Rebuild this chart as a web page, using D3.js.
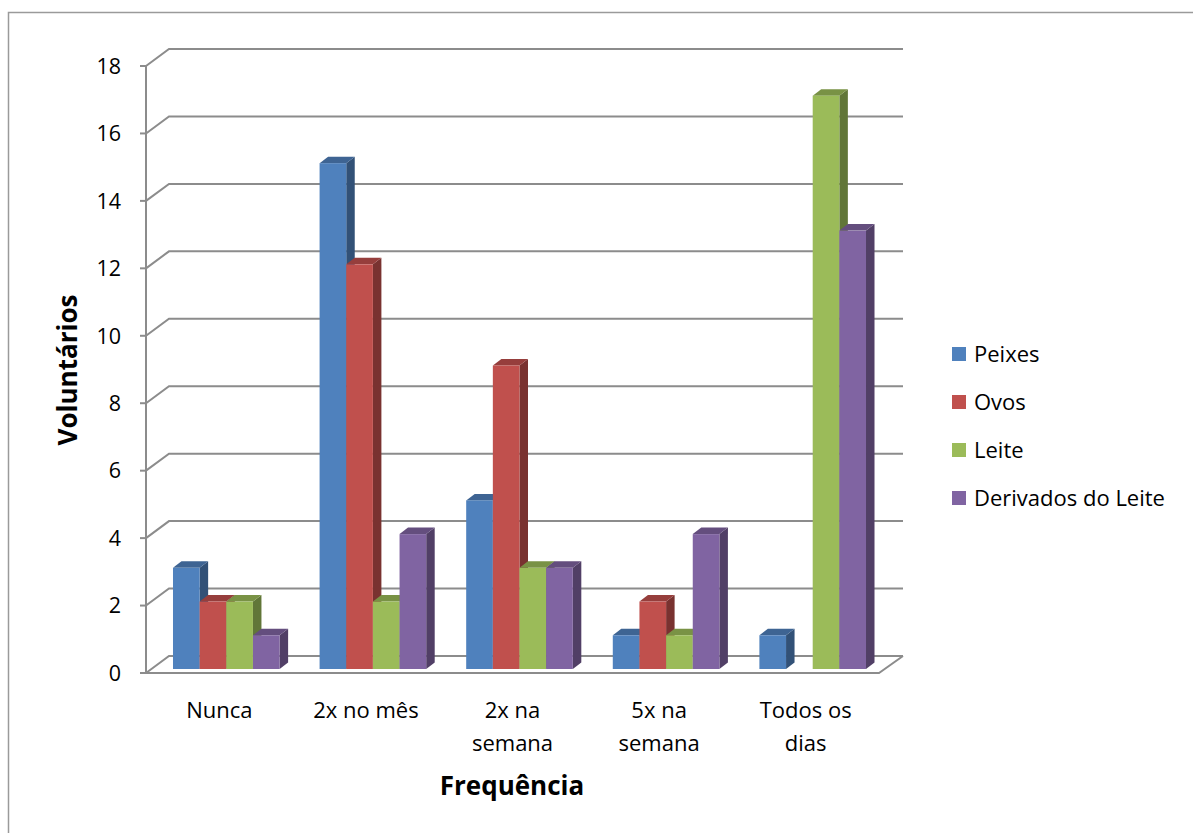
<!DOCTYPE html>
<html>
<head>
<meta charset="utf-8">
<script src="https://cdn.jsdelivr.net/npm/d3@7/dist/d3.min.js"></script>
<style>
  html, body { margin: 0; padding: 0; background: #fff; }
  svg { display: block; font-family: "Open Sans", Lato, sans-serif; }
</style>
</head>
<body>
<svg id="chart" width="1193" height="833"></svg>
<script>
// Frequência de consumo por alimento
const categories = [["Nunca"], ["2x no mês"], ["2x na", "semana"], ["5x na", "semana"], ["Todos os", "dias"]];
const seriesNames = ["Peixes", "Ovos", "Leite", "Derivados do Leite"];
const seriesColors = ["#4F81BD", "#C0504D", "#9BBB59", "#8064A2"];
const peixes    = [3, 15, 5, 1, 1];
const ovos      = [2, 12, 9, 2, 0];
const leite     = [2, 2, 3, 1, 17];
const derivados = [1, 4, 3, 4, 13];
const yTicks = [0, 2, 4, 6, 8, 10, 12, 14, 16, 18];

const seriesValues = [peixes, ovos, leite, derivados];
const catKeys = categories.map(c => c.join(" "));

const svg = d3.select("#chart");

// outer frame
svg.append("rect")
  .attr("x", 8.5).attr("y", 12.5)
  .attr("width", 1300).attr("height", 1000)
  .attr("fill", "none").attr("stroke", "#9a9a9a").attr("stroke-width", 1.5);

// front plane scales
const y = d3.scaleLinear().domain([0, 18]).range([673, 66]);
const x = d3.scaleBand().domain(catKeys).range([146, 879]).paddingInner(0).paddingOuter(0);
const barW = x.bandwidth() / 5.5;
const xs = d3.scaleBand().domain(seriesNames).range([0, barW * 4]);

// depth offsets of the 3D box
const wallDx = 23, wallDy = -17;     // back wall relative to front
const barDx = 7, barDy = -4;         // bar front relative to front plane
const sideDx = 8.5, sideDy = -6.5;   // bar thickness

const gridColor = "#8c8c8c";
const grid = svg.append("g").attr("stroke", gridColor).attr("stroke-width", 2).attr("fill", "none");

// back wall gridlines and side-wall diagonals
yTicks.forEach(t => {
  grid.append("path").attr("d", d3.line()([
    [146, y(t)], [146 + wallDx, y(t) + wallDy], [903, y(t) + wallDy]
  ]));
});
// floor front edge and right diagonal
grid.append("path").attr("d", d3.line()([
  [146, y(0)], [879, y(0)], [879 + wallDx + 1, y(0) + wallDy]
]));

// bars
const bars = svg.append("g");
catKeys.forEach((cat, ci) => {
  seriesNames.forEach((name, si) => {
    const v = seriesValues[si][ci];
    if (!v) return;
    const base = d3.color(seriesColors[si]);
    const x0 = x(cat) + barW * 0.75 + xs(name) + barDx;
    const x1 = x0 + barW;
    const yTop = y(v) + barDy;
    const yBot = y(0) + barDy;
    // side face
    bars.append("path")
      .attr("d", d3.line()([[x1, yTop], [x1 + sideDx, yTop + sideDy], [x1 + sideDx, yBot + sideDy], [x1, yBot]]) + "Z")
      .attr("fill", base.darker(1.3));
    // top face
    bars.append("path")
      .attr("d", d3.line()([[x0, yTop], [x0 + sideDx, yTop + sideDy], [x1 + sideDx, yTop + sideDy], [x1, yTop]]) + "Z")
      .attr("fill", base.darker(0.7));
    // front face
    bars.append("rect")
      .attr("x", x0).attr("y", yTop)
      .attr("width", barW).attr("height", yBot - yTop)
      .attr("fill", base);
  });
});

// value axis
const axis = svg.append("g").attr("stroke", gridColor).attr("stroke-width", 2);
axis.append("line").attr("x1", 146).attr("x2", 146).attr("y1", y(18)).attr("y2", y(0));
yTicks.forEach(t => {
  axis.append("line").attr("x1", 140).attr("x2", 146).attr("y1", y(t)).attr("y2", y(t));
});
svg.append("g").selectAll("text").data(yTicks).join("text")
  .attr("x", 121).attr("y", d => y(d)).attr("dy", "0.36em")
  .attr("text-anchor", "end").attr("font-size", 21.5).attr("fill", "#000")
  .text(d => d);

// category labels
const catG = svg.append("g");
categories.forEach((lines, ci) => {
  const cx = x(catKeys[ci]) + x.bandwidth() / 2;
  lines.forEach((ln, li) => {
    catG.append("text")
      .attr("x", cx).attr("y", 718 + li * 33)
      .attr("text-anchor", "middle").attr("font-size", 22).attr("fill", "#000")
      .text(ln);
  });
});

// axis titles
svg.append("text")
  .attr("x", 512).attr("y", 795)
  .attr("text-anchor", "middle").attr("font-size", 26).attr("font-weight", "bold")
  .text("Frequência");
svg.append("text")
  .attr("transform", "translate(77,370) rotate(-90)")
  .attr("text-anchor", "middle").attr("font-size", 26).attr("font-weight", "bold")
  .text("Voluntários");

// legend
const legend = svg.append("g");
seriesNames.forEach((name, i) => {
  const ly = 354 + i * 48;
  legend.append("rect")
    .attr("x", 952).attr("y", ly - 7).attr("width", 14).attr("height", 14)
    .attr("fill", seriesColors[i]);
  legend.append("text")
    .attr("x", 974).attr("y", ly).attr("dy", "0.36em")
    .attr("font-size", 22).attr("fill", "#000")
    .text(name);
});
</script>
</body>
</html>
